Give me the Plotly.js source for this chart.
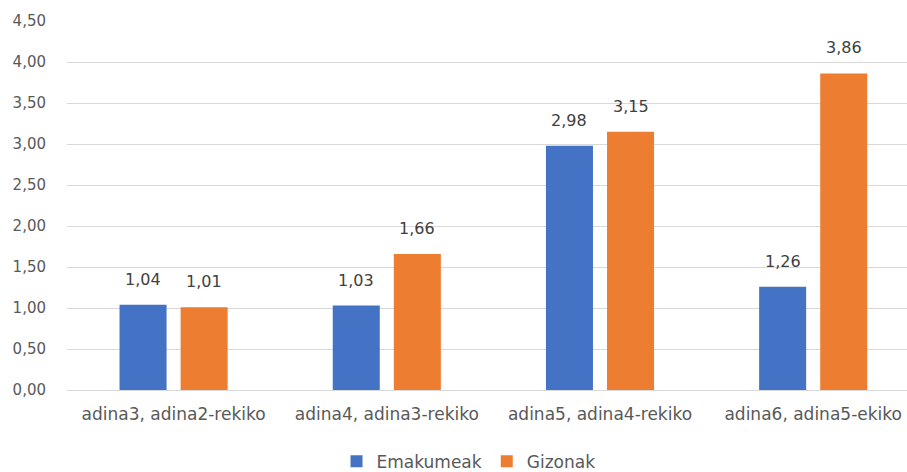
<!DOCTYPE html>
<html>
<head>
<meta charset="utf-8">
<script src="https://cdn.plot.ly/plotly-3.0.1.min.js"></script>
<style>
  html, body { margin: 0; padding: 0; background: #fff; }
  #chart { width: 907px; height: 472px; }
</style>
</head>
<body>
<div id="chart"></div>
<script>
// Ratios by age group, per sex
const categories = ['adina3, adina2-rekiko', 'adina4, adina3-rekiko', 'adina5, adina4-rekiko', 'adina6, adina5-ekiko'];
const emakumeak = [1.04, 1.03, 2.98, 1.26];
const gizonak = [1.01, 1.66, 3.15, 3.86];
const seriesNames = ['Emakumeak', 'Gizonak'];
const seriesColors = ['#4472C4', '#ED7D31'];

const font = '"DejaVu Sans", Verdana, sans-serif';
const bargap = 0.427;
const bargroupgap = 0.23;

function barTrace(name, values, color) {
  return {
    type: 'bar',
    name: name,
    x: categories,
    y: values,
    marker: { color: color, line: { width: 0 } },
    hoverinfo: 'skip'
  };
}

const data = [
  barTrace(seriesNames[0], emakumeak, seriesColors[0]),
  barTrace(seriesNames[1], gizonak, seriesColors[1])
];

// Value labels sit a little above each bar; each bar occupies half of the
// non-gap part of its category, so its centre is a quarter of it from the middle.
const half = (1 - bargap) / 4;
const annotations = [];
[emakumeak, gizonak].forEach((values, s) => {
  values.forEach((v, i) => {
    annotations.push({
      xref: 'x', yref: 'y',
      x: i + (s === 0 ? -half : half),
      y: v,
      text: v.toFixed(2).replace('.', ','),
      showarrow: false,
      yanchor: 'bottom',
      yshift: 14,
      font: { family: font, size: 16, color: '#404040' }
    });
  });
});

const layout = {
  width: 907,
  height: 472,
  margin: { l: 67, r: 0, t: 21, b: 82 },
  paper_bgcolor: '#fff',
  plot_bgcolor: '#fff',
  separators: ',.',
  barmode: 'group',
  bargap: bargap,
  bargroupgap: bargroupgap,
  showlegend: true,
  legend: {
    orientation: 'h',
    x: 0.478, xanchor: 'center',
    yref: 'container',
    y: 0.022, yanchor: 'middle',
    font: { family: font, size: 17, color: '#595959' },
    itemwidth: 30,
    traceorder: 'normal'
  },
  annotations: annotations,
  xaxis: {
    type: 'category',
    range: [-0.5, 3.44],
    automargin: false,
    showgrid: false,
    zeroline: false,
    showline: false,
    ticks: '',
    tickfont: { family: font, size: 17, color: '#595959' },
    ticklabelstandoff: 12
  },
  yaxis: {
    range: [0, 4.5],
    dtick: 0.5,
    tickformat: '.2f',
    automargin: false,
    showgrid: true,
    gridcolor: '#D9D9D9',
    gridwidth: 1,
    zeroline: true,
    zerolinecolor: '#D9D9D9',
    zerolinewidth: 1,
    showline: false,
    ticks: '',
    ticklabelstandoff: 20,
    tickfont: { family: font, size: 15, color: '#595959' }
  }
};

Plotly.newPlot('chart', data, layout, { displayModeBar: false, staticPlot: true });
</script>
</body>
</html>
